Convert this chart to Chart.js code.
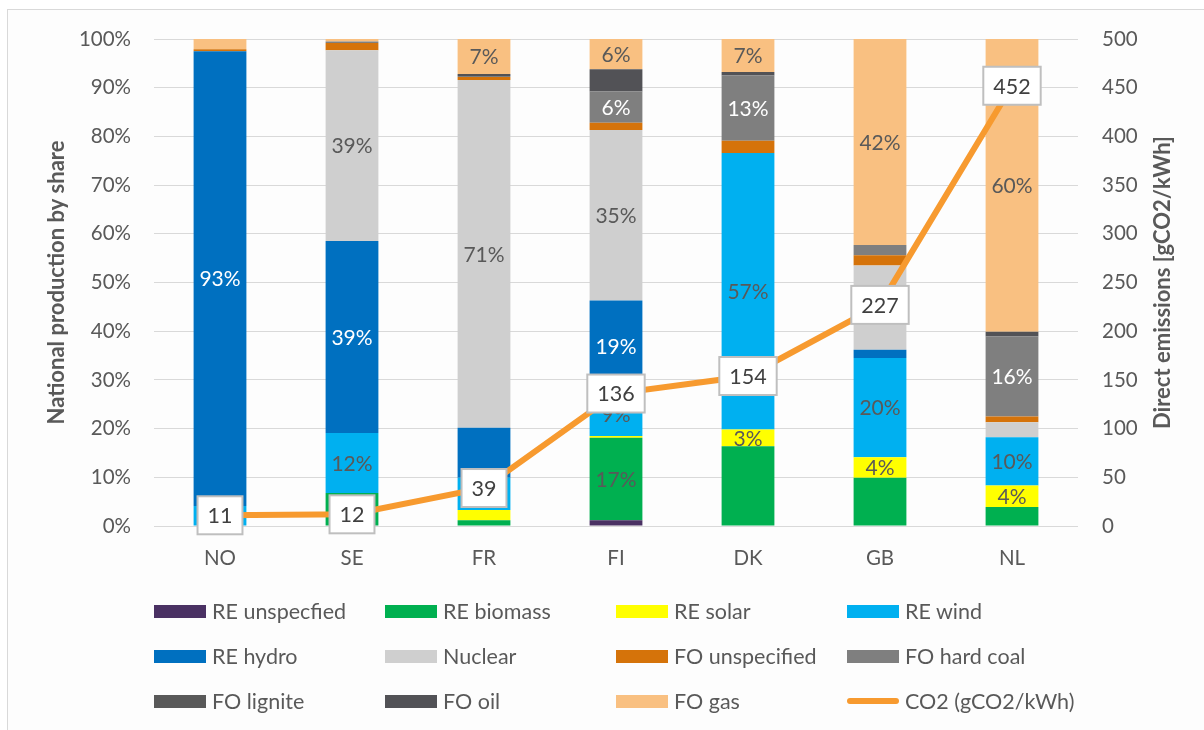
<!DOCTYPE html>
<html>
<head>
<meta charset="utf-8">
<script src="https://cdn.jsdelivr.net/npm/chart.js@4.4.1/dist/chart.umd.min.js"></script>
<style>
    html, body { margin: 0; padding: 0; background: #fff; }
    #frame { position: absolute; left: 7px; top: 9px; width: 1210px; height: 740px; border: 1px solid #d9d9d9; background: #fdfdfd; }
    #chart { position: absolute; left: 0; top: 0; }
    .item { position: absolute; height: 30px; display: flex; align-items: center; font: 21.5px Lato, sans-serif; color: #595959; white-space: nowrap; }
    .sw { width: 52px; height: 13px; margin-right: 6px; }
    .sw.line { height: 6px; border-radius: 3px; }
</style>
</head>
<body>
<div id="frame"></div>
<canvas id="chart" width="1204" height="730"></canvas>
<div id="legend"></div>
<script>
const countries = ["NO", "SE", "FR", "FI", "DK", "GB", "NL"];

// shares in % of national production
const reUnspec   = [0,    0,    0,    1.2,  0,    0,    0];
const reBiomass  = [0,    6.8,  1.2,  16.9, 16.4, 9.9,  3.9];
const reSolar    = [0,    0,    2.1,  0.4,  3.4,  4.2,  4.4];
const reWind     = [4.1,  12.3, 6.6,  9.0,  56.8, 20.4, 9.9];
const reHydro    = [93.4, 39.4, 10.3, 18.8, 0,    1.7,  0];
const nuclear    = [0,    39.2, 71.4, 35.0, 0,    17.3, 3.1];
const foUnspec   = [0.4,  1.5,  0.6,  1.5,  2.5,  2.1,  1.2];
const foHardCoal = [0,    0.3,  0.2,  6.4,  13.4, 2.1,  16.4];
const foLignite  = [0,    0,    0,    0,    0,    0,    0];
const foOil      = [0,    0,    0.4,  4.6,  0.7,  0,    1.0];
const foGas      = [2.1,  0.5,  7.2,  6.2,  6.8,  42.3, 60.1];

// direct emissions gCO2/kWh
const co2 = [11, 12, 39, 136, 154, 227, 452];

// which segments carry a % label
const shown = {
    "RE biomass": ["FI"],
    "RE solar": ["DK", "GB", "NL"],
    "RE wind": ["SE", "FI", "DK", "GB", "NL"],
    "RE hydro": ["NO", "SE", "FI"],
    "Nuclear": ["SE", "FR", "FI"],
    "FO hard coal": ["FI", "DK", "NL"],
    "FO gas": ["FR", "FI", "DK", "GB", "NL"]
};

const series = [
    ["RE unspecfied", reUnspec, "#4a3163", "#595959"],
    ["RE biomass", reBiomass, "#00b050", "#595959"],
    ["RE solar", reSolar, "#ffff00", "#595959"],
    ["RE wind", reWind, "#00b0f0", "#595959"],
    ["RE hydro", reHydro, "#0070c0", "#ffffff"],
    ["Nuclear", nuclear, "#cfcfcf", "#595959"],
    ["FO unspecified", foUnspec, "#d5730a", "#595959"],
    ["FO hard coal", foHardCoal, "#7f7f7f", "#ffffff"],
    ["FO lignite", foLignite, "#595959", "#ffffff"],
    ["FO oil", foOil, "#525256", "#ffffff"],
    ["FO gas", foGas, "#f9c081", "#595959"]
];

const txt = "#595959";
const font = { family: "Lato", size: 20.5 };

const datasets = series.map(s => ({
    type: "bar",
    label: s[0],
    data: s[1],
    backgroundColor: s[2],
    labelColor: s[3],
    shownAt: shown[s[0]] || [],
    yAxisID: "y",
    stack: "share",
    order: 1,
    barPercentage: 0.4,
    categoryPercentage: 1
}));

datasets.push({
    type: "line",
    label: "CO2 (gCO2/kWh)",
    data: co2,
    borderColor: "#f79a2f",
    backgroundColor: "#f79a2f",
    borderWidth: 6,
    pointRadius: 0,
    tension: 0,
    yAxisID: "y1",
    order: 0
});

const labelPlugin = {
    id: "labels",
    afterDatasetDraw(chart, args) {
        const ds = chart.data.datasets[args.index];
        if (ds.type !== "bar") return;
        const ctx = chart.ctx;
        ctx.save();
        ctx.font = "21px Lato";
        ctx.fillStyle = ds.labelColor;
        ctx.textAlign = "center";
        ctx.textBaseline = "middle";
        args.meta.data.forEach((bar, i) => {
            if (!ds.shownAt.includes(countries[i])) return;
            const p = bar.getProps(["x", "y", "base"], true);
            ctx.fillText(Math.round(ds.data[i]) + "%", p.x, (p.y + p.base) / 2 + 1);
        });
        ctx.restore();
    },
    afterDatasetsDraw(chart) {
        const ctx = chart.ctx;
        const idx = chart.data.datasets.length - 1;
        const meta = chart.getDatasetMeta(idx);
        ctx.save();
        ctx.font = "21.5px Lato";
        ctx.textAlign = "center";
        ctx.textBaseline = "middle";
        meta.data.forEach((pt, i) => {
            const t = String(co2[i]);
            const w = ctx.measureText(t).width + 20;
            const h = 38;
            ctx.fillStyle = "#ffffff";
            ctx.fillRect(pt.x - w / 2, pt.y - h / 2, w, h);
            ctx.strokeStyle = "#bfbfbf";
            ctx.lineWidth = 2;
            ctx.strokeRect(pt.x - w / 2, pt.y - h / 2, w, h);
            ctx.fillStyle = "#404040";
            ctx.fillText(t, pt.x, pt.y + 1);
        });

        // axis titles, both read bottom to top
        const a = chart.chartArea;
        const midY = (a.top + a.bottom) / 2;
        ctx.font = "bold 22px Lato";
        ctx.fillStyle = txt;
        [[57, "National production by share"], [1163, "Direct emissions [gCO2/kWh]"]].forEach(([x, t]) => {
            ctx.save();
            ctx.translate(x, midY);
            ctx.rotate(-Math.PI / 2);
            ctx.fillText(t, 0, 0);
            ctx.restore();
        });
        ctx.restore();
    }
};

const chart = new Chart(document.getElementById("chart"), {
    data: { labels: countries, datasets: datasets },
    options: {
        responsive: false,
        animation: false,
        layout: { padding: { top: 39, left: 0, right: 0, bottom: 0 } },
        plugins: { legend: { display: false }, tooltip: { enabled: false } },
        scales: {
            x: {
                stacked: true,
                grid: { display: false },
                border: { display: false },
                ticks: { color: txt, font: font, padding: 12 },
                afterFit(s) { s.height = 204; }
            },
            y: {
                stacked: true,
                min: 0,
                max: 100,
                grid: { color: "#d9d9d9", drawTicks: false },
                border: { display: false },
                ticks: { stepSize: 10, color: txt, font: font, padding: 23, callback: v => v + "%" },
                afterFit(s) { s.width = 154; }
            },
            y1: {
                position: "right",
                min: 0,
                max: 500,
                grid: { display: false, drawTicks: false },
                border: { display: false },
                ticks: { stepSize: 50, color: txt, font: font, padding: 24 },
                afterFit(s) { s.width = 126; }
            }
        }
    },
    plugins: [labelPlugin]
});

// legend, 4 columns x 3 rows
const legend = document.getElementById("legend");
const colX = [154, 385, 616, 847];
const rowY = [611, 656, 701];
chart.data.datasets.forEach((ds, i) => {
    const item = document.createElement("div");
    item.className = "item";
    item.style.left = colX[i % 4] + "px";
    item.style.top = (rowY[Math.floor(i / 4)] - 15) + "px";
    const sw = document.createElement("span");
    sw.className = ds.type === "line" ? "sw line" : "sw";
    sw.style.background = ds.type === "line" ? ds.borderColor : ds.backgroundColor;
    item.appendChild(sw);
    item.appendChild(document.createTextNode(ds.label));
    legend.appendChild(item);
});
</script>
</body>
</html>
